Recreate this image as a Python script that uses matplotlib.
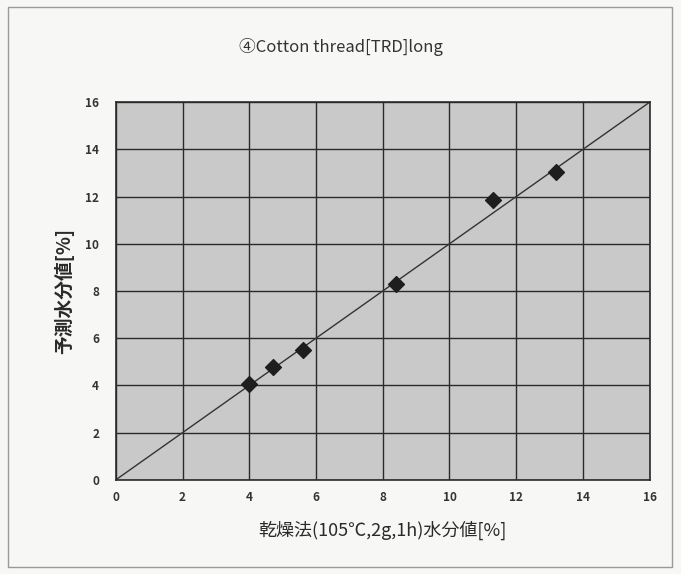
import matplotlib
matplotlib.use("Agg")
import matplotlib.pyplot as plt
from matplotlib.patches import Rectangle

plt.rcParams['font.family'] = ['Noto Sans CJK JP', 'DejaVu Sans']

# measured (drying method) vs predicted moisture, %
dry_x = [4.0, 4.7, 5.6, 8.4, 11.3, 13.2]
pred_y = [4.05, 4.8, 5.5, 8.3, 11.85, 13.05]
ticks = [0, 2, 4, 6, 8, 10, 12, 14, 16]

fig = plt.figure(figsize=(6.81, 5.74), dpi=100, facecolor="#f7f7f5")
fig.patches.append(Rectangle((0.012, 0.012), 0.975, 0.975, transform=fig.transFigure,
                             fill=False, edgecolor="#9a9a9a", linewidth=1.0))
ax = fig.add_axes([0.170, 0.164, 0.784, 0.658])
ax.set_facecolor("#c9c9c9")

ax.plot([0, 16], [0, 16], color="#333333", linewidth=1.0, zorder=2)
ax.scatter(dry_x, pred_y, marker="D", s=65, color="#1e1e1e", zorder=3)

ax.set_xlim(0, 16)
ax.set_ylim(0, 16)
ax.set_xticks(ticks)
ax.set_yticks(ticks)
ax.grid(True, color="#2a2a2a", linewidth=1.0, zorder=1)
ax.set_axisbelow(True)
ax.tick_params(length=0, labelsize=8.5, colors="#333333")
ax.tick_params(axis="y", pad=12)
ax.tick_params(axis="x", pad=8)
for lab in ax.get_xticklabels() + ax.get_yticklabels():
    lab.set_fontweight("bold")
for sp in ax.spines.values():
    sp.set_color("#2a2a2a")
    sp.set_linewidth(1.2)

ax.set_xlabel("乾燥法(105℃,2g,1h)水分値[%]", fontsize=13, color="#2a2a2a", labelpad=12)
ax.set_ylabel("予測水分値[%]", fontsize=13.5, color="#2a2a2a", labelpad=8, fontweight="bold")
fig.text(0.5, 0.918, "④Cotton thread[TRD]long", ha="center", va="center",
         fontsize=12, color="#333333")

fig.savefig("out.png", dpi=100, facecolor=fig.get_facecolor())
